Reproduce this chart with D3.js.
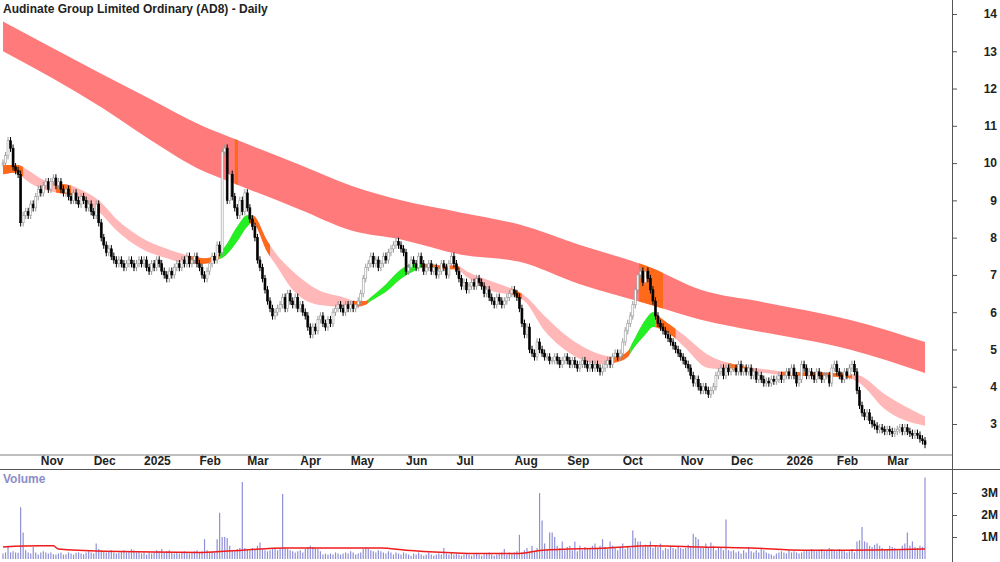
<!DOCTYPE html>
<html>
<head>
<meta charset="utf-8">
<script src="https://cdn.jsdelivr.net/npm/d3@7"></script>
<style>
  body { margin: 0; background: #fff; }
  svg { display: block; font-family: Arial, "Liberation Sans", sans-serif; }
</style>
</head>
<body>
<svg id="chart" width="1000" height="562"></svg>
<script>
// daily closes, mid Oct 2024 to mid Mar 2026
const closes = [
  10.0,10.2,10.6,10.4,9.9,9.8,9.7,8.4,8.6,8.7,
  8.6,8.9,8.8,9.1,9.3,9.2,9.4,9.5,9.3,9.5,
  9.6,9.4,9.5,9.3,9.2,9.3,9.1,9.0,9.2,9.0,
  8.9,9.1,9.0,8.8,8.9,8.7,8.6,8.9,8.4,8.0,
  7.8,7.6,7.7,7.5,7.4,7.3,7.4,7.3,7.2,7.3,
  7.4,7.3,7.2,7.3,7.4,7.3,7.4,7.2,7.1,7.3,
  7.2,7.4,7.3,7.1,7.0,6.9,7.1,7.0,7.2,7.3,
  7.2,7.4,7.3,7.5,7.3,7.4,7.5,7.3,7.2,7.0,
  6.9,7.1,7.3,7.5,7.4,7.8,7.6,10.3,10.4,9.0,
  9.7,9.1,8.8,8.6,9.0,8.7,9.2,8.8,8.5,8.3,
  8.0,7.4,7.2,6.9,6.6,6.3,6.1,5.9,6.0,6.1,
  6.2,6.4,6.1,6.5,6.3,6.2,6.4,6.1,6.2,6.0,
  5.9,5.6,5.4,5.6,5.5,5.8,5.9,5.7,5.6,5.8,
  5.7,6.0,6.1,6.2,6.1,6.0,6.2,6.1,6.2,6.1,
  6.2,6.3,6.5,6.9,7.2,7.3,7.5,7.3,7.4,7.2,
  7.3,7.5,7.4,7.6,7.7,7.8,7.9,7.8,7.7,7.6,
  7.1,7.2,7.4,7.3,7.2,7.5,7.3,7.1,7.2,7.3,
  7.1,7.2,7.0,7.1,7.3,7.2,7.0,7.3,7.5,7.3,
  7.1,6.9,6.7,6.8,6.6,6.7,6.8,6.7,6.9,6.8,
  6.7,6.5,6.6,6.4,6.3,6.2,6.4,6.3,6.2,6.3,
  6.4,6.5,6.6,6.5,6.4,6.1,5.7,5.4,5.6,5.0,
  4.9,4.8,5.2,5.0,4.9,4.8,4.8,4.7,4.7,4.8,
  4.7,4.6,4.7,4.8,4.7,4.6,4.7,4.6,4.5,4.6,
  4.7,4.6,4.5,4.6,4.5,4.6,4.5,4.4,4.5,4.6,
  4.7,4.6,4.8,4.9,4.8,4.9,5.2,5.5,5.7,5.9,
  6.2,6.6,7.0,7.1,6.8,7.1,6.9,6.6,6.3,5.9,
  5.7,5.6,5.5,5.4,5.3,5.2,5.1,5.0,4.9,4.8,
  4.7,4.6,4.5,4.3,4.1,4.2,4.0,3.9,4.0,3.9,
  3.8,3.9,4.0,4.3,4.4,4.5,4.3,4.5,4.4,4.5,
  4.5,4.4,4.6,4.4,4.5,4.4,4.5,4.3,4.4,4.2,
  4.3,4.2,4.1,4.15,4.1,4.2,4.15,4.2,4.3,4.2,
  4.3,4.4,4.3,4.5,4.3,4.1,4.2,4.6,4.5,4.3,
  4.4,4.3,4.2,4.4,4.3,4.2,4.3,4.3,4.1,4.5,
  4.6,4.4,4.3,4.2,4.4,4.3,4.5,4.6,4.4,3.9,
  3.5,3.3,3.2,3.3,3.1,3.0,2.95,2.85,2.9,2.85,
  2.8,2.85,2.8,2.75,2.8,2.85,2.9,2.8,2.9,2.8,
  2.75,2.7,2.75,2.7,2.6,2.55,2.45
];

// daily volume, millions
const volumes = [
  0.25,0.3,0.6,0.3,0.35,0.3,0.28,2.35,1.2,0.4,
  0.3,0.25,0.55,0.3,0.2,0.3,0.35,0.3,0.25,0.3,
  0.22,0.2,0.25,0.3,0.2,0.22,0.3,0.25,0.2,0.28,
  0.3,0.25,0.22,0.3,0.35,0.3,0.25,0.7,0.45,0.4,
  0.35,0.3,0.35,0.4,0.3,0.25,0.3,0.35,0.4,0.3,
  0.35,0.45,0.4,0.3,0.35,0.25,0.3,0.2,0.3,0.25,
  0.3,0.4,0.35,0.45,0.3,0.35,0.4,0.3,0.25,0.3,
  0.25,0.3,0.35,0.3,0.25,0.3,0.35,0.4,0.3,0.35,
  0.9,0.4,0.3,0.35,0.3,0.9,2.1,1.0,1.0,0.95,
  0.6,0.4,0.35,0.45,0.5,3.5,0.5,0.45,0.4,0.5,
  0.45,0.6,0.75,0.45,0.4,0.35,0.4,0.45,0.5,0.4,
  0.45,2.95,0.5,0.45,0.4,0.35,0.3,0.35,0.4,0.3,
  0.45,0.55,0.6,0.55,0.5,0.45,0.35,0.2,0.25,0.2,
  0.25,0.2,0.3,0.25,0.2,0.25,0.3,0.25,0.35,0.3,
  0.2,0.25,0.3,0.45,0.5,0.45,0.4,0.35,0.3,0.4,
  0.35,0.3,0.25,0.35,0.3,0.2,0.3,0.25,0.2,0.3,
  0.25,0.2,0.15,0.25,0.2,0.3,0.2,0.15,0.2,0.3,
  0.2,0.15,0.2,0.25,0.2,0.5,0.25,0.2,0.3,0.2,
  0.25,0.2,0.15,0.2,0.25,0.2,0.15,0.2,0.25,0.2,
  0.15,0.2,0.25,0.3,0.2,0.15,0.2,0.25,0.3,0.45,
  0.2,0.3,0.25,0.3,0.35,1.1,0.3,0.4,0.5,0.35,
  0.6,0.35,0.5,3.0,1.75,0.7,0.45,1.2,1.2,1.0,
  0.6,0.5,0.8,0.4,0.55,0.6,0.4,0.8,0.35,0.6,
  0.4,0.55,0.45,0.5,0.6,0.7,0.5,0.6,0.9,0.55,
  0.45,0.8,0.6,0.5,0.4,0.55,0.7,0.45,0.6,0.5,
  1.3,0.95,0.8,0.8,0.55,0.65,0.6,0.8,0.5,0.6,
  0.55,0.7,0.4,0.5,0.45,0.6,0.5,0.45,0.6,0.5,
  0.45,0.5,0.65,0.55,1.15,1.0,0.9,0.55,0.5,0.7,
  0.5,0.75,0.6,0.4,0.5,0.55,0.4,1.8,0.4,0.35,
  0.4,0.3,0.35,0.25,0.4,0.3,0.55,0.35,0.3,0.4,
  0.3,0.5,0.4,0.3,0.25,0.2,0.15,0.25,0.3,0.35,
  0.3,0.25,0.4,0.3,0.35,0.3,0.25,0.3,0.35,0.4,
  0.35,0.45,0.4,0.35,0.4,0.45,0.35,0.4,0.5,0.45,
  0.4,0.35,0.45,0.4,0.35,0.3,0.35,0.45,0.3,0.8,
  0.85,1.45,0.8,0.75,0.6,0.55,0.65,0.7,0.6,0.5,
  0.4,0.45,0.6,0.55,0.5,0.4,0.45,0.6,0.7,1.2,
  0.6,0.8,0.55,0.5,0.6,0.55,3.7
];

// volume moving average samples [dayIndex, millions]
const volumeAvg = [
  [0,0.55],[15,0.6],[20,0.6],[22,0.45],[40,0.35],[79,0.3],[95,0.4],[112,0.5],
  [150,0.5],[160,0.4],[176,0.3],[190,0.25],[205,0.25],[214,0.4],[240,0.5],
  [257,0.6],[277,0.55],[297,0.5],[318,0.4],[336,0.4],[366,0.45]
];

// long-term MA band [dayIndex, upper, lower]
const longBand = [
  [0,13.8,13.0],[39,12.4,11.5],[59,11.7,10.6],[79,11.0,9.8],[90,10.7,9.5],
  [118,9.95,8.75],[138,9.4,8.2],[158,9.0,7.95],[182,8.67,7.54],[205,8.35,7.35],
  [229,7.8,6.75],[257,7.2,6.2],[277,6.6,5.8],[301,6.28,5.47],[336,5.8,5.0],[366,5.2,4.37]
];

// short-term MA band [dayIndex, upper, lower]
const shortBand = [
  [0,9.95,9.7],[6,9.95,9.75],[9,9.85,9.55],[16,9.55,9.3],[22,9.45,9.2],[27,9.4,9.15],
  [32,9.25,9.0],[38,9.0,8.7],[45,8.5,8.2],[55,8.0,7.7],[65,7.7,7.45],[75,7.5,7.3],
  [80,7.45,7.3],[84,7.5,7.38],[88,7.75,7.5],[93,8.3,7.9],[97,8.6,8.3],[99,8.6,8.4],
  [105,7.9,7.6],[108,7.6,7.3],[115,7.1,6.6],[125,6.6,6.2],[135,6.4,6.15],[140,6.3,6.15],
  [144,6.3,6.2],[146,6.4,6.3],[152,6.75,6.55],[158,7.15,6.9],[163,7.3,7.1],[167,7.3,7.2],
  [175,7.25,7.15],[180,7.25,7.15],[184,7.1,6.95],[195,6.8,6.55],[203,6.6,6.45],
  [207,6.45,6.3],[215,5.9,5.5],[225,5.3,4.9],[238,4.85,4.6],[243,4.8,4.65],[248,4.95,4.8],
  [250,5.2,5.0],[255,5.8,5.4],[258,6.0,5.6],[261,5.85,5.55],[266,5.6,5.35],[270,5.4,5.1],
  [280,4.85,4.5],[290,4.6,4.45],[298,4.5,4.4],[305,4.45,4.35],[310,4.4,4.3],
  [325,4.38,4.28],[335,4.35,4.25],[340,4.3,4.1],[350,3.8,3.4],[366,3.2,2.95]
];

// day ranges where price sits inside / above the bands
const longInside = [[92,93.3],[252.5,262]];
const shortInside = [[0,8],[21,27],[74,86],[98,106],[139,145],[166,181],[202,206],[242,249],[259,267],[288,296],[309,337]];
const shortAbove = [[86,98],[145,166],[249,259]];

const monthTicks = [
  [16,'Nov'],[37,'Dec'],[57,'2025'],[79,'Feb'],[98,'Mar'],[119,'Apr'],[139,'May'],
  [161,'Jun'],[181,'Jul'],[204,'Aug'],[225,'Sep'],[247,'Oct'],[270,'Nov'],[290,'Dec'],
  [312,'2026'],[332,'Feb'],[352,'Mar']
];
const priceTicks = [3,4,5,6,7,8,9,10,11,12,13,14];
const volumeTicks = [1,2,3];

const svg = d3.select('#chart');
const x = d3.scaleLinear().domain([0, 366]).range([3, 925]);
const y = d3.scaleLinear().domain([3, 14]).range([424, 14]);
const yv = d3.scaleLinear().domain([0, 3]).range([559, 493]);
const axisX = 952;

const bars = closes.map((c, i) => {
  const o = i === 0 ? c : closes[i - 1];
  return { i, o, c, h: Math.max(o, c) + 0.1, l: Math.min(o, c) - 0.1 };
});

// bands
const bandArea = d3.area().x((d) => x(d[0])).y0((d) => y(d[2])).y1((d) => y(d[1])).curve(d3.curveMonotoneX);
const defs = svg.append('defs');
function clipFor(id, ranges) {
  const cp = defs.append('clipPath').attr('id', id);
  ranges.forEach((r) => cp.append('rect').attr('x', x(r[0])).attr('width', x(r[1]) - x(r[0])).attr('y', 0).attr('height', 460));
  return `url(#${id})`;
}
svg.append('path').attr('d', bandArea(longBand)).attr('fill', '#ff7b7b');
svg.append('path').attr('d', bandArea(longBand)).attr('fill', '#ff6a1a').attr('clip-path', clipFor('cl1', longInside));
svg.append('path').attr('d', bandArea(shortBand)).attr('fill', '#ffb7b7');
svg.append('path').attr('d', bandArea(shortBand)).attr('fill', '#ff6a1a').attr('clip-path', clipFor('cs1', shortInside));
svg.append('path').attr('d', bandArea(shortBand)).attr('fill', '#22f022').attr('clip-path', clipFor('cs2', shortAbove));

// candles
const cg = svg.append('g');
cg.selectAll('line').data(bars).join('line')
  .attr('x1', (d) => x(d.i)).attr('x2', (d) => x(d.i))
  .attr('y1', (d) => y(d.h)).attr('y2', (d) => y(d.l))
  .attr('stroke', (d) => (d.c >= d.o ? '#999' : '#000')).attr('stroke-width', 1);
cg.selectAll('rect').data(bars).join('rect')
  .attr('x', (d) => x(d.i) - 1).attr('width', 2)
  .attr('y', (d) => y(Math.max(d.o, d.c)))
  .attr('height', (d) => Math.max(1, Math.abs(y(d.o) - y(d.c))))
  .attr('fill', (d) => (d.c >= d.o ? '#fff' : '#000'))
  .attr('stroke', (d) => (d.c >= d.o ? '#999' : '#000')).attr('stroke-width', 0.6);

// volume
svg.append('g').selectAll('line').data(volumes).join('line')
  .attr('x1', (d, i) => x(i)).attr('x2', (d, i) => x(i))
  .attr('y1', yv(0)).attr('y2', (d) => yv(d))
  .attr('stroke', '#8f8fd8').attr('stroke-width', 1.2);
svg.append('path')
  .attr('d', d3.line().x((d) => x(d[0])).y((d) => yv(d[1])).curve(d3.curveMonotoneX)(volumeAvg))
  .attr('fill', 'none').attr('stroke', '#ee1c1c').attr('stroke-width', 1.5);

// frames
svg.append('line').attr('x1', 0).attr('x2', axisX).attr('y1', 455).attr('y2', 455).attr('stroke', '#aaa').attr('stroke-width', 1.5);
svg.append('line').attr('x1', 0).attr('x2', 1000).attr('y1', 469.5).attr('y2', 469.5).attr('stroke', '#555');
svg.append('line').attr('x1', axisX + 0.5).attr('x2', axisX + 0.5).attr('y1', 0).attr('y2', 562).attr('stroke', '#555');

// date axis
const dg = svg.append('g').attr('transform', 'translate(0,455)');
dg.call(d3.axisBottom(x).tickValues(monthTicks.map((d) => d[0])).tickSize(4).tickPadding(6)
  .tickFormat((d) => monthTicks.find((m) => m[0] === d)[1]))
  .call((g) => g.select('.domain').remove())
  .call((g) => g.selectAll('.tick line').attr('stroke', '#888'))
  .call((g) => g.selectAll('.tick text').attr('text-anchor', 'start').attr('dx', -3).attr('dy', 0)
    .attr('font-size', 12).attr('font-weight', 'bold').attr('fill', '#222').attr('font-family', 'Arial, Liberation Sans'));

// price axis
svg.append('g').attr('transform', `translate(${axisX},0)`)
  .call(d3.axisRight(y).tickValues(priceTicks).tickSize(5).tickPadding(22))
  .call((g) => g.select('.domain').remove())
  .call((g) => g.selectAll('.tick line').attr('stroke', '#555'))
  .call((g) => g.selectAll('.tick text').attr('text-anchor', 'end').attr('x', 45)
    .attr('font-size', 12).attr('font-weight', 'bold').attr('fill', '#222').attr('font-family', 'Arial, Liberation Sans'));

// volume axis
svg.append('g').attr('transform', `translate(${axisX},0)`)
  .call(d3.axisRight(yv).tickValues(volumeTicks).tickSize(5).tickFormat((d) => d + 'M'))
  .call((g) => g.select('.domain').remove())
  .call((g) => g.selectAll('.tick line').attr('stroke', '#555'))
  .call((g) => g.selectAll('.tick text').attr('text-anchor', 'end').attr('x', 46)
    .attr('font-size', 12).attr('font-weight', 'bold').attr('fill', '#222').attr('font-family', 'Arial, Liberation Sans'));

svg.append('text').attr('x', 3).attr('y', 13).attr('font-size', 12).attr('font-weight', 'bold').attr('fill', '#222')
  .text('Audinate Group Limited Ordinary (AD8) - Daily');
svg.append('text').attr('x', 3).attr('y', 483).attr('font-size', 12).attr('font-weight', 'bold').attr('fill', '#8c8cc8')
  .text('Volume');
</script>
</body>
</html>
